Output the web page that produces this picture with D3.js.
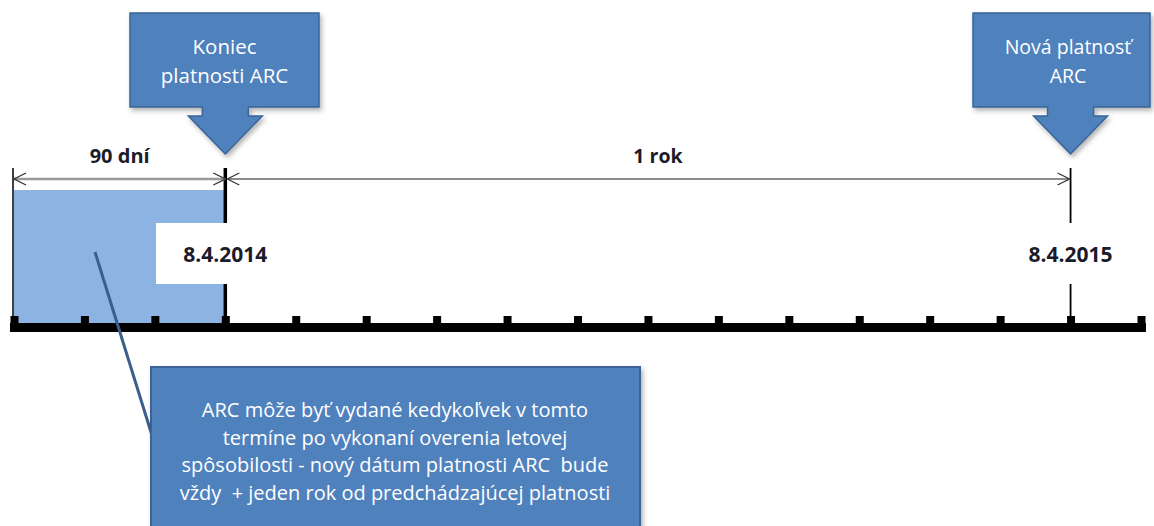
<!DOCTYPE html>
<html>
<head>
<meta charset="utf-8">
<script src="https://cdn.jsdelivr.net/npm/d3@7"></script>
<style>
body { margin: 0; background: #fff; }
text { font-family: "Open Sans", Lato, sans-serif; white-space: pre; }
</style>
</head>
<body>
<div id="chart"></div>
<script>
// months relative to end of ARC validity (0 = 8.4.2014)
var tickMonths = [-3, -2, -1, 0, 1, 2, 3, 4, 5, 6, 7, 8, 9, 10, 11, 12, 13];
var dateLabels = ["8.4.2014", "8.4.2015"];
var dateMonths = [0, 12];
var spanLabels = ["90 dní", "1 rok"];
var spanFrom = [-3, 0];
var spanTo = [0, 12];
var windowFrom = -3, windowTo = 0;
var calloutLines = [["Koniec", "platnosti ARC"], ["Nová platnosť", "ARC"]];
var calloutMonths = [0, 12];
var noteLines = [
	"ARC môže byť vydané kedykoľvek v tomto",
	"termíne po vykonaní overenia letovej",
	"spôsobilosti - nový dátum platnosti ARC  bude",
	"vždy  + jeden rok od predchádzajúcej platnosti"
];

var W = 1154, H = 526;
var svg = d3.select("#chart").append("svg")
	.attr("width", W)
	.attr("height", H);

var defs = svg.append("defs");
var sh = defs.append("filter").attr("id", "shadow")
	.attr("x", "-10%").attr("y", "-10%").attr("width", "130%").attr("height", "130%");
sh.append("feDropShadow").attr("dx", 2).attr("dy", 3).attr("stdDeviation", 2.5)
	.attr("flood-color", "#000").attr("flood-opacity", 0.3);

var mk = defs.append("marker").attr("id", "open")
	.attr("viewBox", "0 0 14 14").attr("refX", 13).attr("refY", 7)
	.attr("markerWidth", 14).attr("markerHeight", 14)
	.attr("markerUnits", "userSpaceOnUse").attr("orient", "auto-start-reverse");
mk.append("path").attr("d", "M1,1 L13,7 L1,13")
	.attr("fill", "none").attr("stroke", "#333").attr("stroke-width", 1.3);

var x = d3.scaleLinear().domain([-3, 13]).range([14, 1141]);
var axisY = 327;

// 90-day window
svg.append("rect")
	.attr("x", x(windowFrom))
	.attr("y", 190)
	.attr("width", x(windowTo) - x(windowFrom))
	.attr("height", axisY - 4 - 190)
	.attr("fill", "#8DB3E2");

// left edge line
svg.append("line")
	.attr("x1", x(windowFrom) - 1).attr("x2", x(windowFrom) - 1)
	.attr("y1", 168).attr("y2", axisY)
	.attr("stroke", "#000").attr("stroke-width", 1.5);

// event lines
dateMonths.forEach(function (m, i) {
	svg.append("line")
		.attr("x1", x(m)).attr("x2", x(m))
		.attr("y1", 168).attr("y2", axisY)
		.attr("stroke", "#000").attr("stroke-width", i == 0 ? 3.5 : 1.8);
});

// date labels with white background
dateMonths.forEach(function (m, i) {
	svg.append("rect")
		.attr("x", i == 0 ? 156 : x(m) - 52)
		.attr("y", 223)
		.attr("width", i == 0 ? 136 : 104)
		.attr("height", 61)
		.attr("fill", "#fff");
	svg.append("text")
		.attr("x", x(m))
		.attr("y", 262)
		.attr("text-anchor", "middle")
		.attr("font-size", 21)
		.attr("font-weight", "bold")
		.attr("fill", "#1b1b2a")
		.text(dateLabels[i]);
});

// span arrows
spanLabels.forEach(function (s, i) {
	svg.append("line")
		.attr("x1", x(spanFrom[i]) + (i == 0 ? 0 : 2))
		.attr("x2", x(spanTo[i]) - (i == 0 ? 0 : 1))
		.attr("y1", 179).attr("y2", 179)
		.attr("stroke", i == 0 ? "#999" : "#666")
		.attr("stroke-width", i == 0 ? 2.5 : 1.5)
		.attr("marker-start", "url(#open)")
		.attr("marker-end", "url(#open)");
	svg.append("text")
		.attr("x", (x(spanFrom[i]) + x(spanTo[i])) / 2 + (i == 0 ? 0 : 10))
		.attr("y", 163)
		.attr("text-anchor", "middle")
		.attr("font-size", i == 0 ? 20 : 19.5)
		.attr("font-weight", "bold")
		.attr("fill", "#1b1b2a")
		.text(s);
});

// axis
var axis = d3.axisTop(x)
	.tickValues(tickMonths)
	.tickSize(11)
	.tickSizeOuter(0)
	.tickFormat("");
var g = svg.append("g")
	.attr("transform", "translate(0," + axisY + ")")
	.call(axis);
g.select(".domain")
	.attr("stroke", "#000")
	.attr("stroke-width", 9)
	.attr("stroke-linecap", "square");
g.selectAll(".tick line")
	.attr("stroke", "#000")
	.attr("stroke-width", 8);

// callout pointer line
svg.append("line")
	.attr("x1", 95).attr("y1", 252)
	.attr("x2", 155).attr("y2", 445)
	.attr("stroke", "#3B5F8C").attr("stroke-width", 3);

// top callouts with down arrows
var boxes = [[130, 319], [973, 1150]];
calloutMonths.forEach(function (m, i) {
	var cx = x(m), b = boxes[i];
	var top = 13, bot = 107, stemBot = 116, tip = 154;
	var d = "M" + b[0] + "," + top + "L" + b[1] + "," + top + "L" + b[1] + "," + bot +
		"L" + (cx + 23) + "," + bot + "L" + (cx + 23) + "," + stemBot +
		"L" + (cx + 37) + "," + stemBot + "L" + cx + "," + tip +
		"L" + (cx - 37) + "," + stemBot + "L" + (cx - 23) + "," + stemBot +
		"L" + (cx - 23) + "," + bot + "L" + b[0] + "," + bot + "Z";
	svg.append("path")
		.attr("d", d)
		.attr("fill", "#4F81BD")
		.attr("stroke", "#3A6496")
		.attr("stroke-width", 1.5)
		.attr("filter", "url(#shadow)");
	var tx = i == 0 ? (b[0] + b[1]) / 2 : 1068;
	calloutLines[i].forEach(function (t, j) {
		svg.append("text")
			.attr("x", tx)
			.attr("y", 54 + 29 * j)
			.attr("text-anchor", "middle")
			.attr("font-size", i == 0 ? 20.5 : 19.5)
			.attr("fill", "#fff")
			.text(t);
	});
});

// bottom note
svg.append("rect")
	.attr("x", 151).attr("y", 367)
	.attr("width", 489).attr("height", 180)
	.attr("fill", "#4F81BD")
	.attr("stroke", "#3A6496")
	.attr("stroke-width", 2)
	.attr("filter", "url(#shadow)");
noteLines.forEach(function (t, j) {
	svg.append("text")
		.attr("x", 395)
		.attr("y", 417 + 27.5 * j)
		.attr("text-anchor", "middle")
		.attr("font-size", 20)
		.attr("fill", "#fff")
		.text(t);
});
</script>
</body>
</html>
